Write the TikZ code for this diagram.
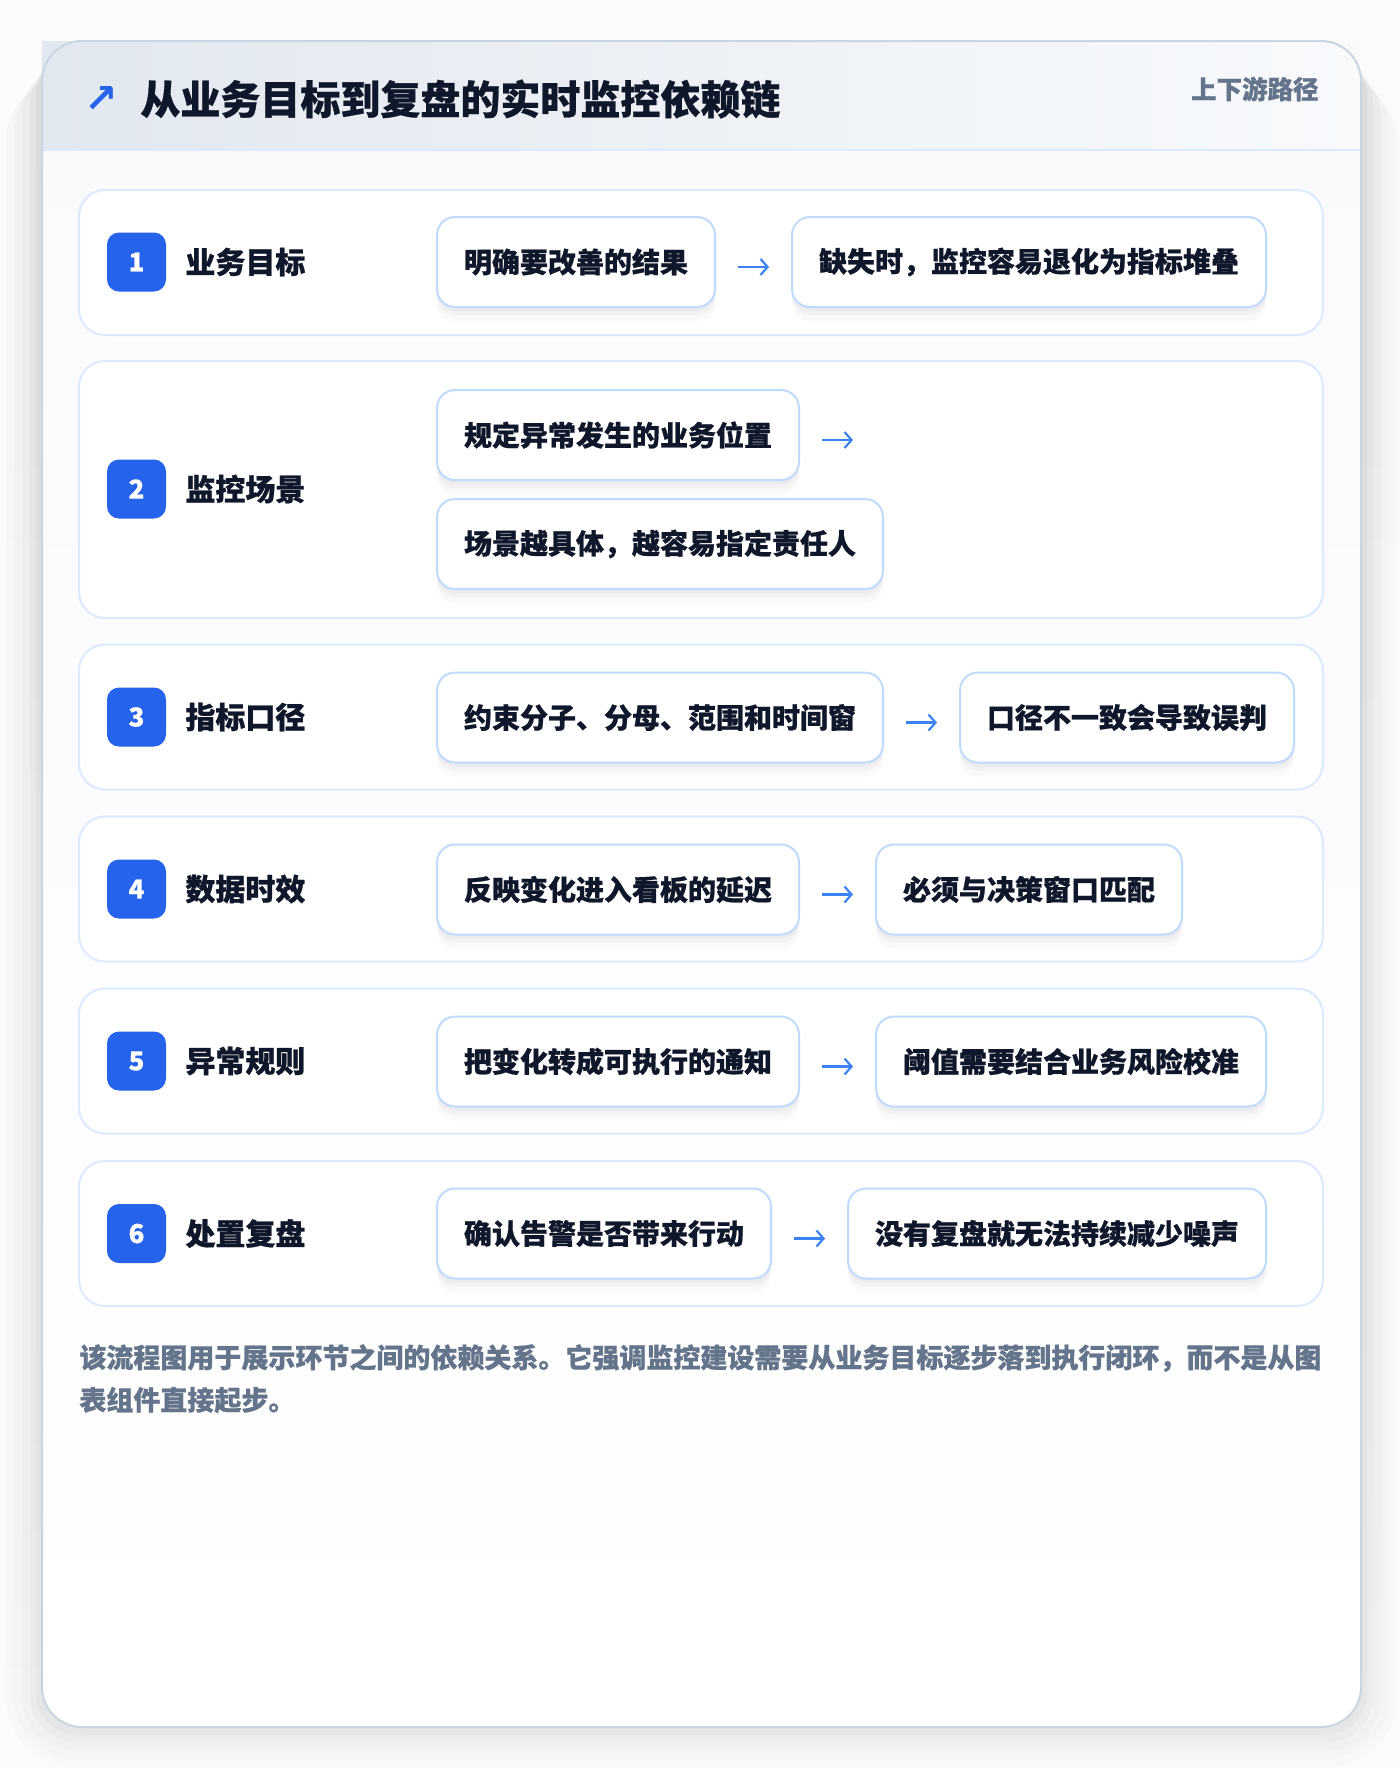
\documentclass[tikz,border=0pt]{standalone}
\usepackage{fontspec}
\setmainfont{Noto Sans CJK SC}[BoldFeatures={FakeBold=0.7}]
\newfontfamily\symfont{DejaVu Sans}
\usetikzlibrary{positioning,arrows.meta}

\definecolor{ink}{HTML}{0F172A}
\definecolor{muted}{HTML}{64748B}
\definecolor{badgeblue}{HTML}{2563EB}
\definecolor{arrowblue}{HTML}{3B82F6}
\definecolor{rowline}{HTML}{DBEAFE}
\definecolor{boxline}{HTML}{BFDBFE}
\definecolor{cardline}{HTML}{CBD5E1}
\definecolor{cardbg}{HTML}{F8FAFC}
\definecolor{headl}{HTML}{E2E8F0}
\definecolor{headr}{HTML}{F8FAFC}
\definecolor{pagebg}{HTML}{FAFBFC}
\definecolor{shade}{HTML}{1E293B}

\begin{document}
\begin{tikzpicture}[x=0.5pt,y=-0.5pt,
    rowbox/.style={draw=rowline, line width=1pt, fill=white, rounded corners=13pt, minimum width=622pt, minimum height=72.5pt},
    badge/.style={fill=badgeblue, text=white, rounded corners=6pt, minimum size=29.5pt, inner sep=0pt, font=\fontsize{13}{13}\selectfont\bfseries},
    rowlabel/.style={anchor=west, inner sep=0pt, text=ink, font=\fontsize{15}{18}\selectfont\bfseries},
    notebox/.style={draw=boxline, line width=1pt, fill=white, rounded corners=9pt, minimum height=45pt, inner xsep=13.5pt, inner ysep=0pt, anchor=west, text=ink, font=\fontsize{14}{16}\selectfont\bfseries,
        preaction={fill=shade, fill opacity=0.025, transform canvas={yshift=-7pt}},
        preaction={fill=shade, fill opacity=0.03, transform canvas={yshift=-4pt}},
        preaction={fill=shade, fill opacity=0.03, transform canvas={yshift=-2pt}}},
    flow/.style={draw=arrowblue, line width=1.1pt, shorten <=11pt, shorten >=11pt, -{Straight Barb[length=3.5pt,width=8pt]}},
    foot/.style={anchor=west, inner sep=0pt, text=muted, font=\fontsize{13.5}{21}\selectfont\bfseries}
  ]
  \useasboundingbox (0,0) rectangle (1400,1768);
  \fill[pagebg] (0,0) rectangle (1400,1768);

  % soft shadow under the card
  \fill[shade, fill opacity=0.01, rounded corners=34pt] (6,75) rectangle (1397,1766);
  \fill[shade, fill opacity=0.012, rounded corners=30pt] (14,70) rectangle (1389,1758);
  \fill[shade, fill opacity=0.016, rounded corners=26pt] (22,64) rectangle (1381,1750);
  \fill[shade, fill opacity=0.02, rounded corners=23pt] (30,58) rectangle (1373,1742);
  \fill[shade, fill opacity=0.025, rounded corners=21pt] (36,52) rectangle (1367,1735);

  % card and header
  \path[top color=cardbg, bottom color=white, rounded corners=20pt] (42,41) rectangle (1361,1727);
  \shade[left color=headl, right color=headr] (42,41) rectangle (1361,150);
  \draw[rowline, line width=1pt] (42,150) -- (1361,150);
  \draw[cardline, line width=1pt, rounded corners=20pt] (42,41) rectangle (1361,1727);

  \node[text=badgeblue, inner sep=0pt, font=\symfont\fontsize{20}{20}\selectfont\bfseries] (icon) at (101,99) {↗};
  \node[anchor=west, inner sep=0pt, text=ink, font=\fontsize{20}{24}\selectfont\bfseries] (title) at (140,99) {从业务目标到复盘的实时监控依赖链};
  \node[anchor=east, inner sep=0pt, text=muted, font=\fontsize{12.75}{15}\selectfont\bfseries] (tag) at (1319,89) {上下游路径};

  % rows
  \node[rowbox] (r1) at (701,262.5) {};
  \node[rowbox, minimum height=128.5pt] (r2) at (701,489.5) {};
  \node[rowbox] (r3) at (701,717) {};
  \node[rowbox] (r4) at (701,889) {};
  \node[rowbox] (r5) at (701,1061) {};
  \node[rowbox] (r6) at (701,1233.5) {};

  \node[badge] (n1) at (136.5,262) {1};
  \node[badge] (n2) at (136.5,489) {2};
  \node[badge] (n3) at (136.5,717) {3};
  \node[badge] (n4) at (136.5,889) {4};
  \node[badge] (n5) at (136.5,1061) {5};
  \node[badge] (n6) at (136.5,1233.5) {6};

  \node[rowlabel] (l1) at (185,262) {业务目标};
  \node[rowlabel] (l2) at (185,489) {监控场景};
  \node[rowlabel] (l3) at (185,717) {指标口径};
  \node[rowlabel] (l4) at (185,889) {数据时效};
  \node[rowlabel] (l5) at (185,1061) {异常规则};
  \node[rowlabel] (l6) at (185,1233.5) {处置复盘};

  % notes
  \node[notebox] (b11) at (436,262) {明确要改善的结果};
  \node[notebox, right=37.5pt of b11] (b12) {缺失时，监控容易退化为指标堆叠};
  \node[notebox] (b21) at (436,435) {规定异常发生的业务位置};
  \coordinate[right=37.5pt of b21.east] (e21);
  \node[notebox] (b22) at (436,544) {场景越具体，越容易指定责任人};
  \node[notebox] (b31) at (436,717.5) {约束分子、分母、范围和时间窗};
  \node[notebox, right=37.5pt of b31] (b32) {口径不一致会导致误判};
  \node[notebox] (b41) at (436,889.5) {反映变化进入看板的延迟};
  \node[notebox, right=37.5pt of b41] (b42) {必须与决策窗口匹配};
  \node[notebox] (b51) at (436,1061.5) {把变化转成可执行的通知};
  \node[notebox, right=37.5pt of b51] (b52) {阈值需要结合业务风险校准};
  \node[notebox] (b61) at (436,1233.5) {确认告警是否带来行动};
  \node[notebox, right=37.5pt of b61] (b62) {没有复盘就无法持续减少噪声};

  \draw[flow] ([yshift=-2.5pt]b11.east) -- ([yshift=-2.5pt]b12.west);
  \draw[flow] ([yshift=-2.5pt]b21.east) -- ([yshift=-2.5pt]e21);
  \draw[flow] ([yshift=-2.5pt]b31.east) -- ([yshift=-2.5pt]b32.west);
  \draw[flow] ([yshift=-2.5pt]b41.east) -- ([yshift=-2.5pt]b42.west);
  \draw[flow] ([yshift=-2.5pt]b51.east) -- ([yshift=-2.5pt]b52.west);
  \draw[flow] ([yshift=-2.5pt]b61.east) -- ([yshift=-2.5pt]b62.west);

  % footnote
  \node[foot] (f1) at (79,1358) {该流程图用于展示环节之间的依赖关系。它强调监控建设需要从业务目标逐步落到执行闭环，而不是从图};
  \node[foot] (f2) at (79,1400) {表组件直接起步。};
\end{tikzpicture}
\end{document}
